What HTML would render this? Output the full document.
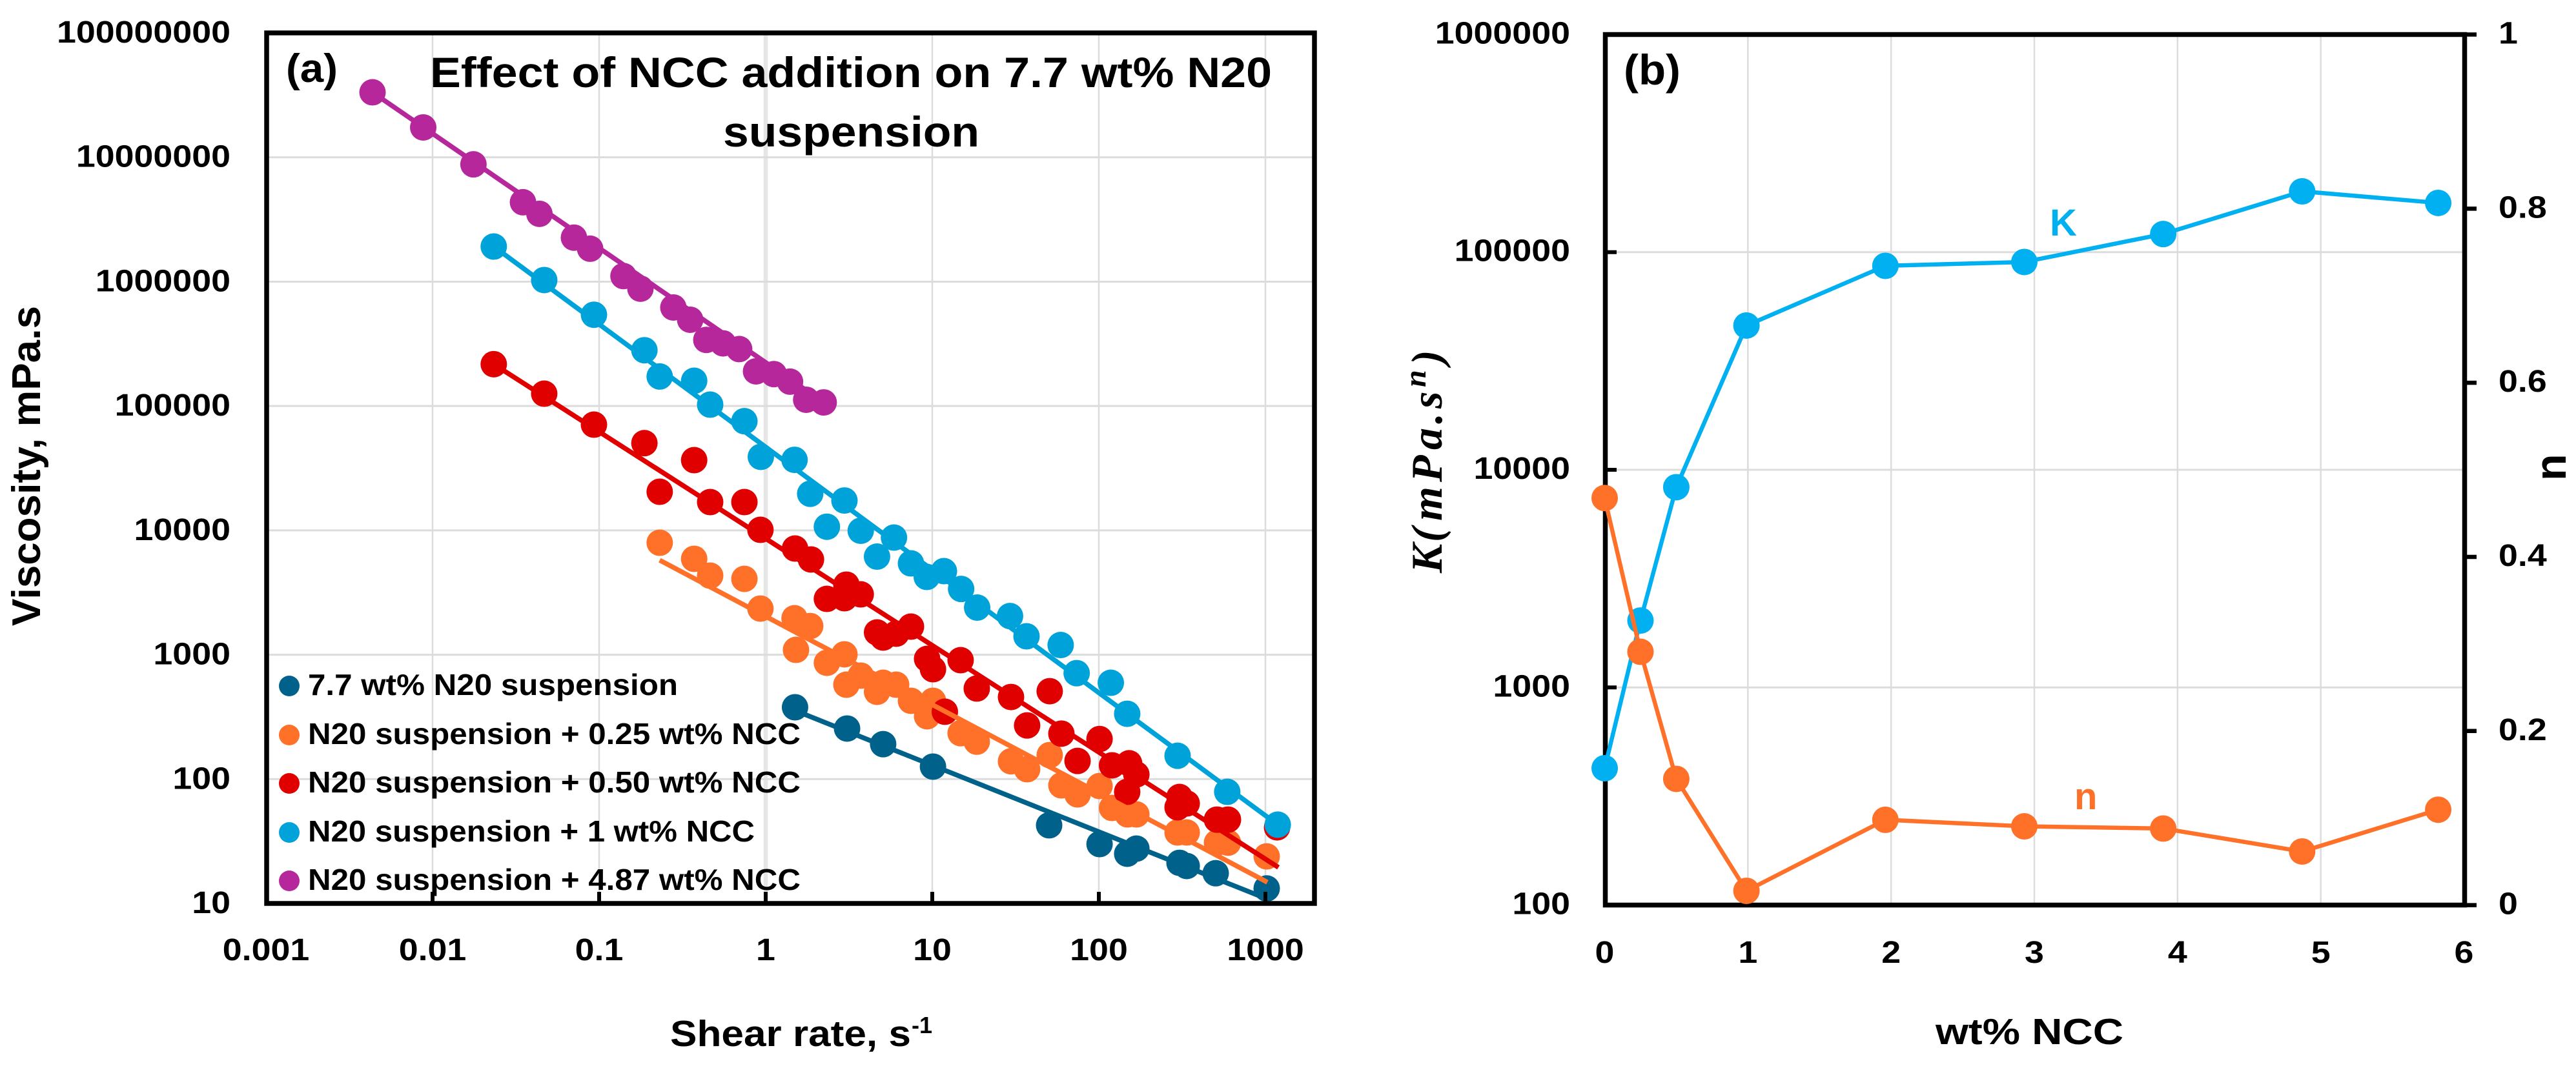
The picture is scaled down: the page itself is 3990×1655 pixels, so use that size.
<!DOCTYPE html>
<html lang="en">
<head>
<meta charset="utf-8">
<title>Effect of NCC addition on N20 suspension</title>
<style>
html,body{margin:0;padding:0;background:#fff;}
svg{display:block;}
text{font-family:"Liberation Sans",sans-serif;font-weight:700;fill:#000;}
.serif{font-family:"Liberation Serif",serif;font-style:italic;}
</style>
</head>
<body>
<svg id="figure" xmlns="http://www.w3.org/2000/svg" width="3990" height="1655" viewBox="0 0 3990 1655">
  <rect width="3990" height="1655" fill="#fff"/>
  <g id="panelA">
    <g id="gridA"></g>
    <g id="marksA"></g>
    <g id="fitsA"></g>
    <rect x="413" y="51" width="1623" height="1349" fill="none" stroke="#000" stroke-width="7.5"/>
    <g id="ticksA"></g>
    <text x="443" y="127" font-size="62" textLength="80" lengthAdjust="spacingAndGlyphs">(a)</text>
    <text x="666" y="135" font-size="66" textLength="1304" lengthAdjust="spacingAndGlyphs">Effect of NCC addition on 7.7 wt% N20</text>
    <text x="1120" y="227" font-size="66" textLength="397" lengthAdjust="spacingAndGlyphs">suspension</text>
    <text transform="translate(62,970) rotate(-90)" font-size="62" textLength="496" lengthAdjust="spacingAndGlyphs">Viscosity, mPa.s</text>
    <text x="1038" y="1621" font-size="57" textLength="373" lengthAdjust="spacingAndGlyphs">Shear rate, s</text>
    <text x="1412" y="1601" font-size="36">-1</text>
    <g>
      <circle cx="448" cy="1063" r="16" fill="#00628A"/>
      <text x="477" y="1077" font-size="46" textLength="573" lengthAdjust="spacingAndGlyphs">7.7 wt% N20 suspension</text>
      <circle cx="448" cy="1139" r="16" fill="#FF7028"/>
      <text x="477" y="1153" font-size="46" textLength="763" lengthAdjust="spacingAndGlyphs">N20 suspension + 0.25 wt% NCC</text>
      <circle cx="448" cy="1214" r="16" fill="#E00000"/>
      <text x="477" y="1228" font-size="46" textLength="763" lengthAdjust="spacingAndGlyphs">N20 suspension + 0.50 wt% NCC</text>
      <circle cx="448" cy="1290" r="16" fill="#00A2DA"/>
      <text x="477" y="1304" font-size="46" textLength="692" lengthAdjust="spacingAndGlyphs">N20 suspension + 1 wt% NCC</text>
      <circle cx="448" cy="1365" r="16" fill="#B5279A"/>
      <text x="477" y="1379" font-size="46" textLength="763" lengthAdjust="spacingAndGlyphs">N20 suspension + 4.87 wt% NCC</text>
    </g>
  </g>
  <g id="panelB">
    <g id="gridB"></g>
    <rect x="2486.5" y="53.5" width="1331" height="1349" fill="none" stroke="#000" stroke-width="7.5"/>
    <g id="ticksB"></g>
    <g id="marksB"></g>
    <text x="2515" y="131" font-size="66" textLength="88" lengthAdjust="spacingAndGlyphs">(b)</text>
    <text x="3175" y="365" font-size="58" style="fill:#00B0F0">K</text>
    <text x="3213" y="1254" font-size="58" style="fill:#FF7028">n</text>
    <text class="serif" transform="translate(2233,888) rotate(-90)" font-size="68"><tspan x="0 48 81 141 191 231 255">K(mPa.s</tspan><tspan x="288" dy="-25" font-size="48">n</tspan><tspan x="323" dy="25">)</tspan></text>
    <text transform="translate(3974,745) rotate(-90)" font-size="68">n</text>
    <text x="2998" y="1618" font-size="57" textLength="291" lengthAdjust="spacingAndGlyphs">wt% NCC</text>
  </g>
</svg>
<script>
// ---------- Panel (a) data: shear rate (1/s) and viscosity (mPa.s) ----------
const neatShear = [1.5, 3.08, 5.07, 10.1, 50.3, 101, 148, 168, 305, 337, 503, 1018];
const neatViscosity = [378, 255, 191, 126, 42.5, 30, 25.1, 27.6, 21.2, 20, 17.5, 13.2];
const ncc025Shear = [0.231, 0.372, 0.464, 0.745, 0.93, 1.49, 1.85, 1.52, 2.33, 2.97, 3.72, 3.05, 4.66, 5.07, 6.07, 7.45, 10.1, 9.31, 14.8, 18.5, 29.7, 37.1, 50.7, 59.6, 74.5, 101, 120, 149, 168, 297, 337, 512, 596, 1018];
const ncc025Viscosity = [7954, 5902, 4325, 4074, 2350, 1965, 1702, 1094, 861, 1007, 679, 574, 503, 595, 574, 426, 426, 320, 234, 200, 139, 120, 156, 89, 75.3, 87.9, 58.6, 52, 52, 37.2, 37.2, 30.8, 30.8, 23.9];
const ncc050Shear = [0.0233, 0.0468, 0.0931, 0.187, 0.231, 0.372, 0.464, 0.745, 0.93, 1.5, 1.87, 3.05, 2.33, 2.97, 3.72, 4.66, 5.07, 6.07, 7.45, 9.31, 10.1, 11.9, 14.8, 18.5, 29.7, 50.7, 37.1, 59.6, 101, 74.5, 120, 152, 168, 148, 305, 337, 297, 512, 596, 1175];
const ncc050Viscosity = [217000, 125700, 70800, 50300, 20440, 36700, 16890, 16890, 10100, 7145, 5834, 3660, 2812, 2847, 3059, 1511, 1374, 1476, 1683, 926, 765, 348, 904, 535, 457, 509, 270, 232, 210, 140, 129, 134, 109, 79, 71.8, 63.7, 59.3, 47.2, 47.2, 40.9];
const ncc1Shear = [0.0233, 0.0468, 0.0931, 0.187, 0.231, 0.372, 0.464, 0.745, 0.935, 1.49, 1.85, 2.97, 2.33, 3.72, 5.89, 4.66, 7.45, 9.27, 11.75, 14.9, 18.6, 29.3, 36.8, 59, 73.6, 118, 148, 297, 590, 1186];
const ncc1Viscosity = [1916000, 1030000, 542000, 281000, 172700, 159600, 102600, 75500, 39000, 36900, 19700, 17380, 10700, 9930, 8750, 6150, 5425, 4222, 4700, 3380, 2393, 2046, 1406, 1197, 711, 595, 335, 154, 79, 43];
const ncc487Shear = [0.00436, 0.00879, 0.0176, 0.0349, 0.0438, 0.0706, 0.0883, 0.14, 0.177, 0.279, 0.352, 0.44, 0.555, 0.693, 0.875, 1.12, 1.4, 1.75, 2.23];
const ncc487Viscosity = [33300000, 17380000, 8780000, 4350000, 3510000, 2260000, 1840000, 1109000, 878000, 620000, 494000, 340000, 319000, 287000, 190000, 180500, 157000, 112300, 106900];

// Power-law trendlines, endpoints
const neatFitShear = [1.5, 1018];
const neatFitViscosity = [356, 10.9];
const ncc025FitShear = [0.231, 1028];
const ncc025FitViscosity = [5757, 14.8];
const ncc050FitShear = [0.0233, 1197];
const ncc050FitViscosity = [217000, 19.5];
const ncc1FitShear = [0.0233, 1186];
const ncc1FitViscosity = [1916000, 43];
const ncc487FitShear = [0.00436, 2.23];
const ncc487FitViscosity = [33300000, 106900];

const panelAXTicks = [0.001, 0.01, 0.1, 1, 10, 100, 1000];
const panelAXTickLabels = ['0.001', '0.01', '0.1', '1', '10', '100', '1000'];
const panelAYTicks = [10, 100, 1000, 10000, 100000, 1000000, 10000000, 100000000];
const panelAYTickLabels = ['10', '100', '1000', '10000', '100000', '1000000', '10000000', '100000000'];

// ---------- Panel (b) data ----------
const nccContent = [0, 0.25, 0.5, 0.99, 1.96, 2.93, 3.9, 4.87, 5.82];
const consistencyK = [425.5, 2030, 8318, 45990, 86500, 90100, 121100, 190200, 168300];
const flowIndexN = [0.4676, 0.291, 0.145, 0.0164, 0.098, 0.0905, 0.088, 0.0616, 0.1096];
const panelBXTicks = [0, 1, 2, 3, 4, 5, 6];
const panelBXTickLabels = ['0', '1', '2', '3', '4', '5', '6'];
const panelBKTicks = [100, 1000, 10000, 100000, 1000000];
const panelBKTickLabels = ['100', '1000', '10000', '100000', '1000000'];
const panelBNTicks = [0, 0.2, 0.4, 0.6, 0.8, 1];
const panelBNTickLabels = ['0', '0.2', '0.4', '0.6', '0.8', '1'];

// ---------- Axis functions ----------
function xA(v) { return 412 + 258 * (Math.log10(v) + 3); }
function yA(v) { return 1400 - 192.71 * (Math.log10(v) - 1); }
function xB(v) { return 2485.5 + 221.83 * v; }
function yBK(v) { return 1402.6 - 337.3 * (Math.log10(v) - 2); }
function yBN(v) { return 1402.6 - 1349.1 * v; }

const NS = 'http://www.w3.org/2000/svg';
function make(parent, tag, props) {
  const node = document.createElementNS(NS, tag);
  for (const key in props) node.setAttribute(key, props[key]);
  parent.appendChild(node);
  return node;
}
function makeLabel(parent, x, y, str, anchor) {
  const node = make(parent, 'text', {
    transform: 'translate(' + x + ',' + y + ') scale(1.12,1)',
    'font-size': 48,
    'text-anchor': anchor
  });
  node.textContent = str;
  return node;
}
const gridColor = '#DCDCDC';
const gridA = document.getElementById('gridA');
const ticksA = document.getElementById('ticksA');
const marksA = document.getElementById('marksA');
const fitsA = document.getElementById('fitsA');
const gridB = document.getElementById('gridB');
const ticksB = document.getElementById('ticksB');
const marksB = document.getElementById('marksB');

// ---------- Panel (a) axes ----------
panelAXTicks.forEach(function (t, i) {
  if (i > 0) {
    const g = make(gridA, 'line', { x1: xA(t), x2: xA(t), y1: 51, y2: 1400, stroke: t === 1 ? '#E6E6E6' : gridColor, 'stroke-width': t === 1 ? 6.5 : 2.5 });
    
    
    const tick = make(ticksA, 'line', { x1: xA(t), x2: xA(t), y1: 1400, y2: 1382, stroke: '#000', 'stroke-width': 6 });
    
    
  }
  const lab = makeLabel(ticksA, xA(t), 1488, panelAXTickLabels[i], 'middle');
  
  
});
panelAYTicks.forEach(function (t, i) {
  if (i > 0 && i < panelAYTicks.length - 1) {
    const g = make(gridA, 'line', { x1: 413, x2: 2036, y1: yA(t), y2: yA(t), stroke: gridColor, 'stroke-width': 3 });
    
    
  }
  const lab = makeLabel(ticksA, 357, yA(t) + 15, panelAYTickLabels[i], 'end');
  
  
});

// ---------- Panel (a) series: markers first, trendlines on top ----------
function drawMarkers(shear, viscosity, color, name) {
  shear.forEach(function (s, i) {
    const dot = make(marksA, 'circle', { cx: xA(s), cy: yA(viscosity[i]), r: 20.5, fill: color });
    
    
  });
}
function drawFit(shear, viscosity, color, name) {
  const line = make(fitsA, 'line', { x1: xA(shear[0]), y1: yA(viscosity[0]), x2: xA(shear[1]), y2: yA(viscosity[1]), stroke: color, 'stroke-width': 7.5 });
  
  
}
drawMarkers(neatShear, neatViscosity, '#00628A', 'neat-suspension');
drawMarkers(ncc025Shear, ncc025Viscosity, '#FF7028', 'ncc-0-25');
drawMarkers(ncc050Shear, ncc050Viscosity, '#E00000', 'ncc-0-50');
drawMarkers(ncc1Shear, ncc1Viscosity, '#00A2DA', 'ncc-1');
drawMarkers(ncc487Shear, ncc487Viscosity, '#B5279A', 'ncc-4-87');
drawFit(neatFitShear, neatFitViscosity, '#00628A', 'neat-suspension');
drawFit(ncc025FitShear, ncc025FitViscosity, '#FF7028', 'ncc-0-25');
drawFit(ncc050FitShear, ncc050FitViscosity, '#E00000', 'ncc-0-50');
drawFit(ncc1FitShear, ncc1FitViscosity, '#00A2DA', 'ncc-1');
drawFit(ncc487FitShear, ncc487FitViscosity, '#B5279A', 'ncc-4-87');

// ---------- Panel (b) axes ----------
panelBXTicks.forEach(function (t, i) {
  if (i > 0 && i < panelBXTicks.length - 1) {
    const g = make(gridB, 'line', { x1: xB(t), x2: xB(t), y1: 53.5, y2: 1402.6, stroke: gridColor, 'stroke-width': 2.5 });
    
    
  }
  const lab = makeLabel(ticksB, xB(t), 1492, panelBXTickLabels[i], 'middle');
  
  
});
panelBKTicks.forEach(function (t, i) {
  if (i > 0 && i < panelBKTicks.length - 1) {
    const g = make(gridB, 'line', { x1: 2486.5, x2: 3817.5, y1: yBK(t), y2: yBK(t), stroke: gridColor, 'stroke-width': 3 });
    
    
    const tick = make(ticksB, 'line', { x1: 2486.5, x2: 2504, y1: yBK(t), y2: yBK(t), stroke: '#000', 'stroke-width': 6 });
    
    
  }
  const lab = makeLabel(ticksB, 2432, yBK(t) + 14, panelBKTickLabels[i], 'end');
  
  
});
panelBNTicks.forEach(function (t, i) {
  const tick = make(ticksB, 'line', { x1: 3817.5, x2: 3836, y1: yBN(t), y2: yBN(t), stroke: '#000', 'stroke-width': 6.5 });
  
  
  const lab = makeLabel(ticksB, 3870, yBN(t) + 14, panelBNTickLabels[i], 'start');
  
  
});

// ---------- Panel (b) series ----------
function drawPanelBSeries(values, yScale, color, name) {
  const pts = nccContent.map(function (x, i) { return xB(x) + ',' + yScale(values[i]); }).join(' ');
  const line = make(marksB, 'polyline', { points: pts, fill: 'none', stroke: color, 'stroke-width': 6.5, 'stroke-linejoin': 'round' });
  
  
  nccContent.forEach(function (x, i) {
    const dot = make(marksB, 'circle', { cx: xB(x), cy: yScale(values[i]), r: 20.5, fill: color });
    
    
  });
}
drawPanelBSeries(consistencyK, yBK, '#00B0F0', 'k-series');
drawPanelBSeries(flowIndexN, yBN, '#FF7028', 'n-series');
</script>
</body>
</html>
